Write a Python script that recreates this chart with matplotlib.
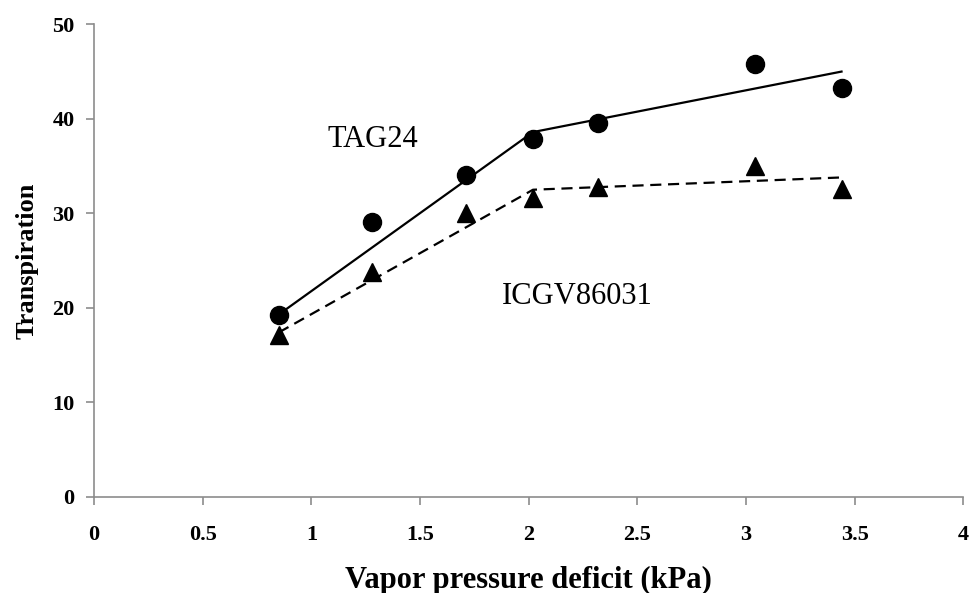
import matplotlib.pyplot as plt

# measured points
vpd = [0.85, 1.28, 1.71, 2.02, 2.32, 3.04, 3.44]
tag24 = [19.2, 29.1, 34.1, 37.9, 39.6, 45.8, 43.3]
icgv = [17.1, 23.8, 30.0, 31.6, 32.8, 35.0, 32.6]

# fitted two-segment lines (breakpoints)
fit_x = [0.85, 2.02, 3.44]
tag24_fit = [19.3, 38.6, 45.0]
icgv_fit = [17.4, 32.5, 33.8]

xticks = [0, 0.5, 1, 1.5, 2, 2.5, 3, 3.5, 4]
xticklabels = ["0", "0.5", "1", "1.5", "2", "2.5", "3", "3.5", "4"]
yticks = [0, 10, 20, 30, 40, 50]

serif = ["Liberation Serif", "DejaVu Serif"]
plt.rcParams["font.family"] = serif

fig = plt.figure(figsize=(9.7, 5.93), dpi=100)
ax = fig.add_axes([0.097, 0.162, 0.896, 0.797])

ax.plot(fit_x, tag24_fit, color="black", linewidth=1.6, linestyle="-")
ax.plot(fit_x, icgv_fit, color="black", linewidth=1.6, linestyle=(0, (5, 3)))
ax.plot(vpd, tag24, linestyle="none", marker="o", markersize=13, color="black")
ax.plot(vpd, icgv, linestyle="none", marker="^", markersize=13, color="black")

ax.text(1.075, 37.8, "TAG24", fontsize=22, va="center", ha="left")
ax.text(1.877, 21.2, "ICGV86031", fontsize=22, va="center", ha="left")

ax.set_xlim(0, 4)
ax.set_ylim(0, 50)
ax.set_xticks(xticks)
ax.set_xticklabels(xticklabels)
ax.set_yticks(yticks)

for side in ("top", "right"):
    ax.spines[side].set_visible(False)
for side in ("left", "bottom"):
    ax.spines[side].set_color("#8c8c8c")
    ax.spines[side].set_linewidth(1.2)

ax.tick_params(axis="both", colors="#8c8c8c", length=6, width=1.2,
               labelcolor="black", labelsize=16)
ax.tick_params(axis="x", pad=14)
ax.tick_params(axis="y", pad=8)
for lab in ax.get_xticklabels() + ax.get_yticklabels():
    lab.set_fontweight("bold")

ax.set_xlabel("Vapor pressure deficit (kPa)", fontsize=22, fontweight="bold", labelpad=15)
ax.set_ylabel("Transpiration", fontsize=19, fontweight="bold", labelpad=10)

fig.savefig("out.png", dpi=100)
